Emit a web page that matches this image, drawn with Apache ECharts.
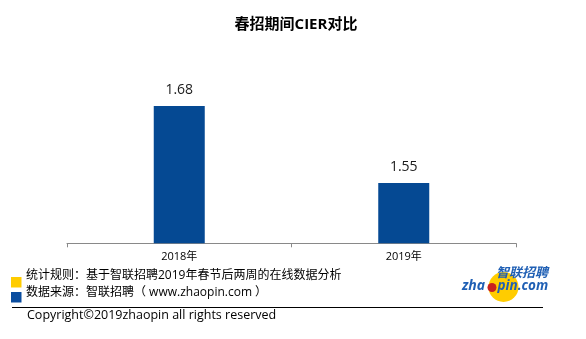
<!DOCTYPE html>
<html>
<head>
<meta charset="utf-8">
<script src="https://cdn.jsdelivr.net/npm/echarts@6/dist/echarts.min.js"></script>
<style>
  html, body { margin: 0; padding: 0; background: #fff; }
  #chart { width: 586px; height: 339px; }
</style>
</head>
<body>
<div id="chart"></div>
<script>
// Spring recruiting CIER by year
const years = ['2018年', '2019年'];
const cierValues = [1.68, 1.55];
const footNotes = [
  '统计规则：基于智联招聘2019年春节后两周的在线数据分析',
  '数据来源：智联招聘（ www.zhaopin.com ）'
];
const copyrightText = 'Copyright©2019zhaopin all rights reserved';

const FONT = "'Open Sans','Noto Sans CJK SC',sans-serif";
const BAR_BLUE = '#054993';
const LOGO_BLUE = '#1f5fb4';

const chart = echarts.init(document.getElementById('chart'), null, { renderer: 'canvas' });

chart.setOption({
  backgroundColor: '#ffffff',
  animation: false,
  title: {
    text: '春招期间CIER对比',
    left: 291,
    textAlign: 'center',
    top: 12,
    textStyle: { fontFamily: FONT, fontSize: 15, fontWeight: 'bold', color: '#000' }
  },
  grid: { left: 67, top: 65.6, width: 449, height: 177.7, containLabel: false },
  xAxis: {
    type: 'category',
    data: years,
    axisLine: { lineStyle: { color: '#898989', width: 1 } },
    axisTick: { show: true, length: 4, lineStyle: { color: '#898989' } },
    axisLabel: { fontFamily: FONT, fontSize: 11, color: '#000', margin: 8 }
  },
  yAxis: {
    type: 'value',
    min: 1.448,
    max: 1.748,
    show: false,
    splitLine: { show: false }
  },
  series: [{
    type: 'bar',
    data: cierValues,
    barWidth: 51,
    itemStyle: { color: BAR_BLUE },
    label: {
      show: true,
      position: 'top',
      distance: 9,
      fontFamily: FONT,
      fontSize: 14,
      color: '#1a1a1a',
      formatter: p => p.value.toFixed(2)
    }
  }],
  graphic: [
    // key squares for the footnotes
    { type: 'rect', shape: { x: 11, y: 277, width: 10.5, height: 10.5 }, style: { fill: '#ffcc00' } },
    { type: 'rect', shape: { x: 11, y: 292, width: 10.5, height: 10.5 }, style: { fill: '#0a4d9f' } },
    { type: 'text', left: 26, top: 270, style: { text: footNotes[0], font: '12px ' + FONT, fill: '#000' } },
    { type: 'text', left: 26, top: 287, style: { text: footNotes[1], font: '12px ' + FONT, fill: '#000' } },
    // separator rule
    { type: 'line', shape: { x1: 12, y1: 307.5, x2: 543, y2: 307.5 }, style: { stroke: '#000', lineWidth: 1.2 } },
    { type: 'text', left: 27, top: 309, style: { text: copyrightText, font: '12.5px ' + FONT, fill: '#000' } },
    // zhaopin logo
    { type: 'circle', shape: { cx: 503.5, cy: 287, r: 15 }, style: { fill: '#ffcc00' } },
    { type: 'text', left: 496, top: 267, style: { text: '智联招聘', font: 'italic bold 13px ' + FONT, fill: LOGO_BLUE } },
    { type: 'text', left: 462, top: 279, style: { text: 'zha', font: 'italic bold 14px ' + FONT, fill: LOGO_BLUE } },
    { type: 'circle', shape: { cx: 492, cy: 287.5, r: 4.5 }, style: { fill: '#c8201f' } },
    { type: 'text', left: 497.5, top: 279.5, style: { text: 'pin.com', font: 'italic bold 13.5px ' + FONT, fill: LOGO_BLUE } }
  ]
});
</script>
</body>
</html>
